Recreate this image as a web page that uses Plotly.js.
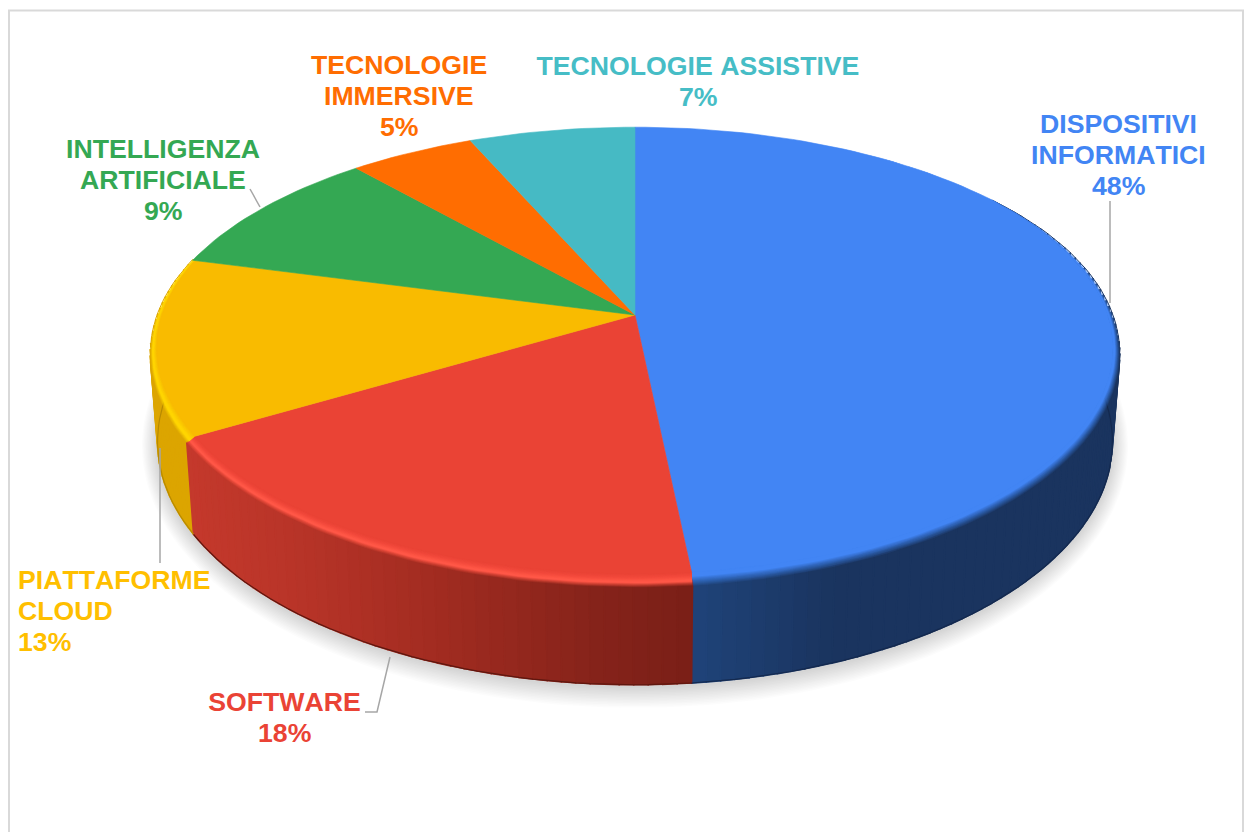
<!DOCTYPE html>
<html>
<head>
<meta charset="utf-8">
<script src="https://cdn.plot.ly/plotly-3.0.1.min.js"></script>
<style>html,body{margin:0;padding:0;background:#fff}#chart{width:1252px;height:832px}#chart text{font-kerning:none}</style>
</head>
<body>
<div id="chart"></div>
<script>
// --- Data ---
const categories = ['DISPOSITIVI INFORMATICI','SOFTWARE','PIATTAFORME CLOUD','INTELLIGENZA ARTIFICIALE','TECNOLOGIE IMMERSIVE','TECNOLOGIE ASSISTIVE'];
const shares = [48.4, 18.0, 12.8, 9.4, 4.9, 6.5];
const faceColors = ['#4285f4','#ea4335','#f9bb00','#34a853','#ff6d01','#46bac4'];
const labelColors = ['#4285f4','#ea4335','#ffbf00','#34a853','#ff6d01','#46bdc6'];
const labelLines = [['DISPOSITIVI','INFORMATICI'],['SOFTWARE'],['PIATTAFORME','CLOUD'],['INTELLIGENZA','ARTIFICIALE'],['TECNOLOGIE','IMMERSIVE'],['TECNOLOGIE ASSISTIVE']];

// --- Presentation ---
const labelAnchor = [[1118,124,'center'],[284.5,702,'center'],[16,580,'left'],[163,149,'center'],[399,65,'center'],[698,66,'center']];
const leaders = [[[1110,1110],[201,303]],[[365,377,390],[712,712,657]],[[160,160],[448,563]],[[250,260],[189,207]]];
const LINE_H = 30.8, FONT = 26.67;
const CX = 635, CY0 = 315, A = 478, B = 219, K = -0.166;
const RIM = 13, F_OUT = -0.75, F_IN = 0.3;
const sideStops = [
  [[693,'#1f4379'],[830,'#1a345f'],[1200,'#1a345f']],
  [[190,'#c5392c'],[300,'#b83428'],[430,'#a32c21'],[600,'#85231a'],[693,'#7a1f17']],
  [[100,'#dca500'],[300,'#dca500']]
];
// bevel: colour, ramp start and end along the rim, drawn in this order
const bevels = [
  [['#4285f4',-0.75,-0.05]],
  [['#ff5747',-0.75,-0.42],['#ea4335',-0.28,0.25]],
  [['#ffd500',-0.75,-0.42],['#f9bb00',-0.2,0.28]]
];
const edgeColors = ['#14294e','#5e170f','#b88a00'];

// --- Projection of the tilted disc ---
function disc(th){
  const u=Math.sin(th), v=-Math.cos(th), d=1+K*v;
  return [CX+A*u/d, CY0+B*v/d];
}
function rimW(th){ const v=-Math.cos(th); return RIM*Math.max(0,Math.min(1,(v+0.55)/1.0)); }
function inset(th,f){
  const p=disc(th), w=rimW(th);
  return [p[0]-Math.sin(th)*w*0.7*(f-F_OUT), p[1]+Math.cos(th)*w*f];
}
function bottom(th){
  const p=disc(th);
  return [CX+(p[0]-CX)*0.985, p[1]+89.4+0.079*(p[1]-353)];
}
function hex(c){return [1,3,5].map(i=>parseInt(c.substr(i,2),16));}
function shade(stops,x){
  if(x<=stops[0][0]) return stops[0][1];
  for(let i=1;i<stops.length;i++){
    if(x<=stops[i][0]){
      const t=(x-stops[i-1][0])/(stops[i][0]-stops[i-1][0]);
      const a=hex(stops[i-1][1]), b=hex(stops[i][1]);
      return 'rgb('+a.map((q,j)=>Math.round(q+(b[j]-q)*t)).join(',')+')';
    }
  }
  return stops[stops.length-1][1];
}
function poly(pts,fill,width,lineColor){
  const c=pts.concat([pts[0]]);
  return {x:c.map(p=>p[0]),y:c.map(p=>p[1]),mode:'lines',fill:'toself',fillcolor:fill,
    line:{color:lineColor||fill,width:width===undefined?1:width},hoverinfo:'skip',showlegend:false,type:'scatter'};
}
function curve(pts,color,width){
  return {x:pts.map(p=>p[0]),y:pts.map(p=>p[1]),mode:'lines',line:{color:color,width:width},hoverinfo:'skip',showlegend:false,type:'scatter'};
}
const total = shares.reduce((a,b)=>a+b,0);
const limits=[]; let acc=0;
shares.forEach(s=>{const a=acc/total*2*Math.PI; acc+=s; limits.push([a,acc/total*2*Math.PI]);});
const STEP = Math.PI/120;
function range(a,b){const n=Math.max(2,Math.ceil((b-a)/STEP)),o=[];for(let i=0;i<=n;i++)o.push(a+(b-a)*i/n);return o;}

const traces=[];
// soft shadow
const nShadow=14;
for(let j=0;j<nShadow;j++){
  const e=21*(1-j/nShadow), pts=[];
  range(0,2*Math.PI).forEach(t=>{
    const q=bottom(t);
    pts.push([q[0]+Math.sin(t)*e*0.75, q[1]+2-Math.cos(t)*e]);
  });
  traces.push(poly(pts,'rgba(120,120,120,0.022)',0));
}
// side walls, back to front
const sideRange=[[55*Math.PI/180,limits[0][1]],[limits[1][0],limits[1][1]],[limits[2][0],limits[2][1]]];
function wall(i,seq){
  for(let s=0;s<seq.length-1;s++){
    const a=seq[s],b=seq[s+1];
    const pts=[inset(a,F_IN+0.05),inset(b,F_IN+0.05),inset(b,F_OUT),bottom(b),bottom(a),inset(a,F_OUT)];
    const xm=(bottom(a)[0]+bottom(b)[0])/2;
    const front=-Math.cos((a+b)/2)>0.12;
    traces.push(poly(pts,shade(sideStops[i],xm),front?1.6:0.6));
  }
}
wall(0,range(sideRange[0][0],sideRange[0][1]));
wall(2,range(sideRange[2][0],sideRange[2][1]).reverse());
wall(1,range(sideRange[1][0],sideRange[1][1]).reverse());
// smooth outer contour of the walls and darker lower edge
traces.push(curve(range(sideRange[0][0],100*Math.PI/180).map(t=>inset(t,F_OUT)),'#1a345f',1));
traces.push(curve(range(262*Math.PI/180,sideRange[2][1]).map(t=>inset(t,F_OUT)),'#dca500',1));
[0,2,1].forEach(i=>{
  const seq=range(Math.max(sideRange[i][0],75*Math.PI/180),sideRange[i][1]).map(bottom);
  traces.push(curve(seq,edgeColors[i],1.2));
});
// bevel: nested translucent layers so that the ramps stay smooth
const nLayers=10;
function rgba(c,a){const h=hex(c);return 'rgba('+h[0]+','+h[1]+','+h[2]+','+a.toFixed(3)+')';}
[0,1,2].forEach(i=>{
  const seq=range(Math.max(limits[i][0],30*Math.PI/180),limits[i][1]);
  bevels[i].forEach(b=>{
    for(let j=0;j<nLayers;j++){
      const f=b[1]+(b[2]-b[1])*j/(nLayers-1);
      const pts=seq.map(t=>inset(t,f)).concat(seq.slice().reverse().map(t=>inset(t,F_IN+0.05)));
      traces.push(poly(pts,rgba(b[0],1/(nLayers-j)),0));
    }
  });
});
// top face wedges
limits.forEach((l,i)=>{
  const arc=range(l[0],l[1]).map(t=>i<3?inset(t,F_IN):disc(t));
  traces.push(poly([[CX,CY0]].concat(arc),faceColors[i],0.6));
});
// leader lines
leaders.forEach(l=>traces.push(curve(l[0].map((x,k)=>[x,l[1][k]]),'#a6a6a6',1.5)));

// labels
const annotations=[];
categories.forEach((c,i)=>{
  const lines=labelLines[i].concat([Math.round(shares[i])+'%']);
  lines.forEach((t,j)=>annotations.push({
    x:labelAnchor[i][0],y:labelAnchor[i][1]+j*LINE_H,xref:'x',yref:'y',text:'<b>'+t+'</b>',showarrow:false,
    xanchor:labelAnchor[i][2],yanchor:'middle',align:labelAnchor[i][2],
    font:{family:'"Liberation Sans",Arial,sans-serif',size:FONT,color:labelColors[i]}
  }));
});

const layout={
  width:1252,height:832,margin:{l:0,r:0,t:0,b:0},paper_bgcolor:'#fff',plot_bgcolor:'#fff',showlegend:false,
  xaxis:{range:[0,1252],visible:false,fixedrange:true},
  yaxis:{range:[832,0],visible:false,fixedrange:true},
  annotations:annotations,
  shapes:[{type:'path',path:'M 9 832 L 9 10.5 L 1243 10.5 L 1243 832',xref:'x',yref:'y',line:{color:'#d9d9d9',width:2},layer:'below'}]
};
Plotly.newPlot('chart',traces,layout,{staticPlot:true,displayModeBar:false});
</script>
</body>
</html>
